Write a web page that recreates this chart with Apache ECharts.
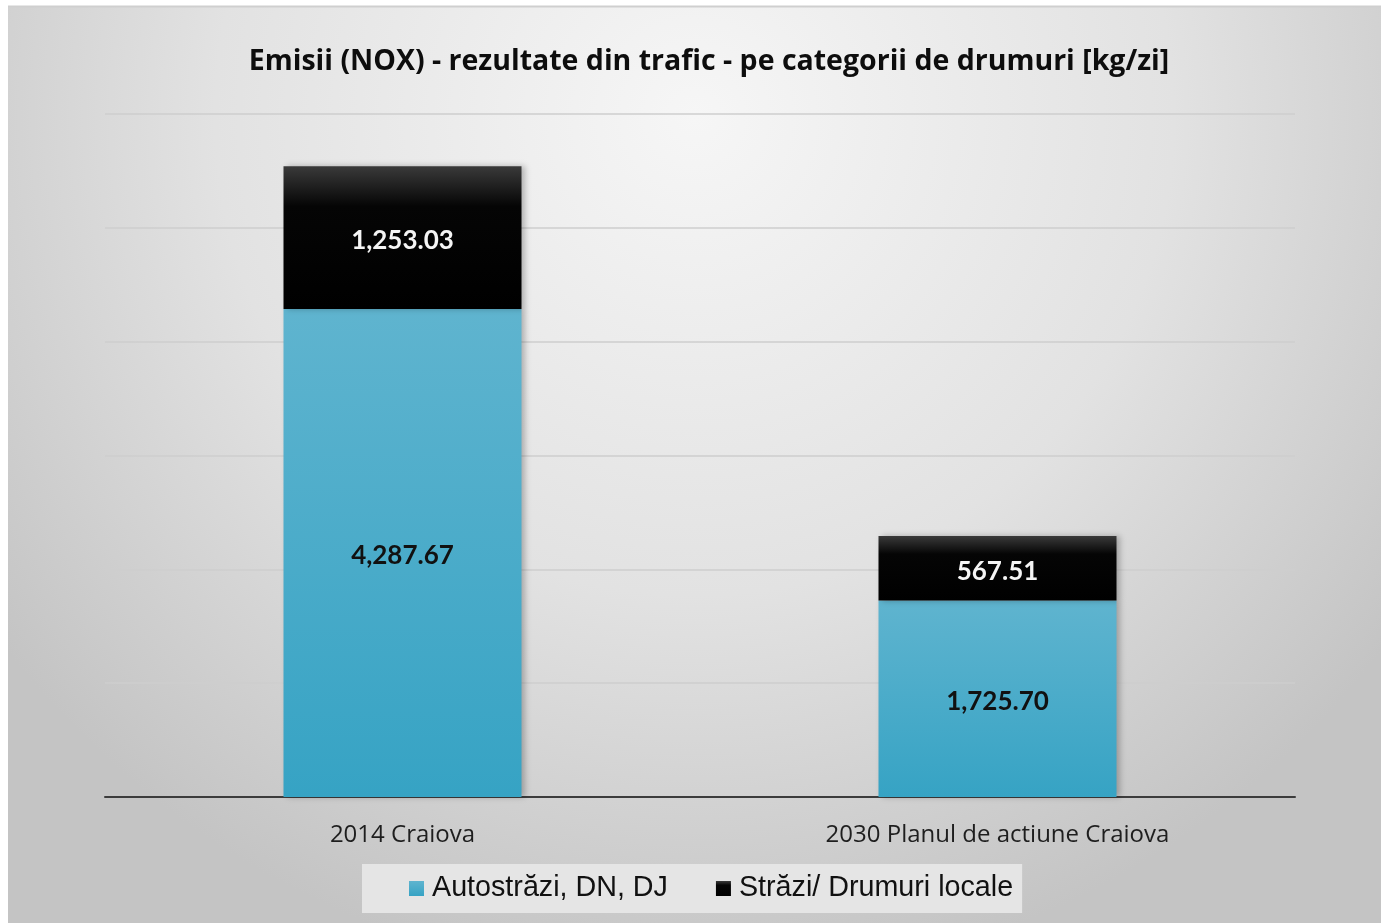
<!DOCTYPE html>
<html>
<head>
<meta charset="utf-8">
<style>
  html, body { margin: 0; padding: 0; background: #fff; }
  #chart { width: 1381px; height: 923px; }
</style>
<script src="https://cdn.jsdelivr.net/npm/echarts@6/dist/echarts.min.js"></script>
</head>
<body>
<div id="chart"></div>
<script>
const categories = ["2014 Craiova", "2030 Planul de actiune Craiova"];
const seriesNames = ["Autostrăzi, DN, DJ", "Străzi/ Drumuri locale"];
const highwayValues = [4287.67, 1725.70];
const localValues = [1253.03, 567.51];
const yTicks = { min: 0, max: 6000, interval: 1000 };

const chart = echarts.init(document.getElementById("chart"));

const fmt = v => v.toLocaleString("en-US", { minimumFractionDigits: 2, maximumFractionDigits: 2 });

chart.setOption({
  animation: false,
  backgroundColor: "#ffffff",
  graphic: [
    {
      type: "rect",
      z: -10,
      silent: true,
      shape: { x: 8, y: 6, width: 1373, height: 917 },
      style: {
        fill: new echarts.graphic.RadialGradient(0.5, 0.12, 0.95, [
          { offset: 0, color: "#f6f6f6" },
          { offset: 0.55, color: "#e2e2e2" },
          { offset: 1, color: "#c4c4c4" }
        ])
      }
    },
    {
      type: "line",
      z: -9,
      silent: true,
      shape: { x1: 8, y1: 6.5, x2: 1381, y2: 6.5 },
      style: { stroke: "#cfcfcf", lineWidth: 2 }
    }
  ],
  title: {
    text: "Emisii (NOX) - rezultate din trafic - pe categorii de drumuri [kg/zi]",
    left: 704,
    top: 42,
    textAlign: "center",
    textStyle: {
      fontFamily: "Open Sans",
      fontWeight: "bold",
      fontSize: 28.5,
      color: "#0d0d0d"
    }
  },
  legend: {
    data: seriesNames,
    left: 362,
    top: 864,
    orient: "horizontal",
    backgroundColor: "#e5e5e5",
    padding: [10, 9, 10, 47],
    itemWidth: 15,
    itemHeight: 15,
    itemGap: 48,
    icon: "rect",
    textStyle: {
      fontFamily: "Liberation Sans",
      fontSize: 28.7,
      color: "#111",
      padding: [0, 0, 0, 3]
    }
  },
  grid: { left: 105, right: 86, top: 114, bottom: 126, containLabel: false },
  xAxis: {
    type: "category",
    data: categories,
    axisTick: { show: false },
    axisLine: { lineStyle: { color: "#3c3c3c", width: 2 } },
    axisLabel: {
      margin: 26,
      fontFamily: "Open Sans",
      fontSize: 24,
      color: "#1e1e1e"
    }
  },
  yAxis: {
    type: "value",
    min: yTicks.min,
    max: yTicks.max,
    interval: yTicks.interval,
    axisLabel: { show: false },
    axisLine: { show: false },
    axisTick: { show: false },
    splitLine: { lineStyle: { color: "#cecece", width: 1.5 } }
  },
  series: [
    {
      name: seriesNames[0],
      type: "bar",
      stack: "total",
      barWidth: "40%",
      data: highwayValues,
      itemStyle: {
        color: new echarts.graphic.LinearGradient(0, 0, 0, 1, [
          { offset: 0, color: "#5fb4cf" },
          { offset: 1, color: "#36a3c4" }
        ]),
        shadowColor: "rgba(0,0,0,0.25)",
        shadowBlur: 6,
        shadowOffsetX: 3
      },
      label: {
        show: true,
        position: "inside",
        offset: [0, 3],
        formatter: p => fmt(p.value),
        fontFamily: "Lato",
        fontWeight: "bold",
        fontSize: 26,
        color: "#111"
      }
    },
    {
      name: seriesNames[1],
      type: "bar",
      stack: "total",
      barWidth: "40%",
      data: localValues,
      itemStyle: {
        color: new echarts.graphic.LinearGradient(0, 0, 0, 1, [
          { offset: 0, color: "#3a3a3a" },
          { offset: 0.28, color: "#050505" },
          { offset: 1, color: "#000000" }
        ]),
        shadowColor: "rgba(0,0,0,0.25)",
        shadowBlur: 6,
        shadowOffsetX: 3
      },
      label: {
        show: true,
        position: "inside",
        offset: [0, 3],
        formatter: p => fmt(p.value),
        fontFamily: "Lato",
        fontWeight: "bold",
        fontSize: 26,
        color: "#f5f5f5"
      }
    }
  ]
});
</script>
</body>
</html>
